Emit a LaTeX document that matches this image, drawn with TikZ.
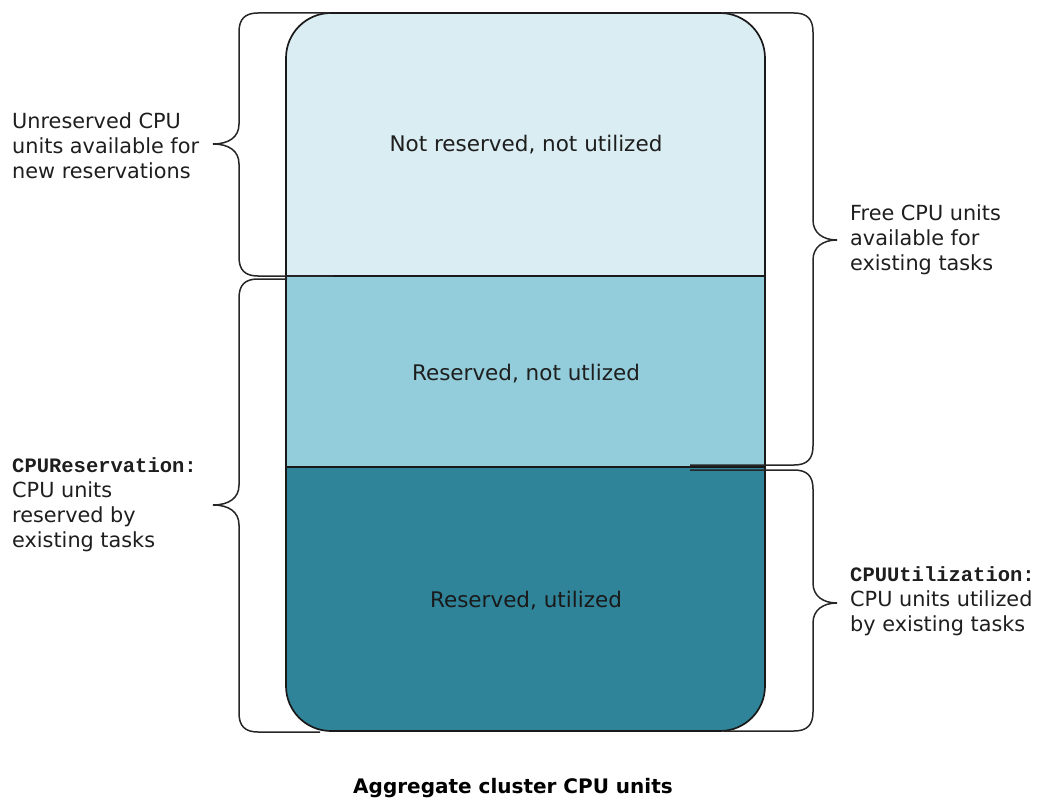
\documentclass[tikz,border=0pt]{standalone}
\usepackage{fontspec}
\setmainfont{DejaVu Sans}
\newfontfamily\codefont{Liberation Mono}
\definecolor{topfill}{HTML}{DAEDF3}
\definecolor{midfill}{HTML}{93CDDB}
\definecolor{botfill}{HTML}{30849A}
\definecolor{txt}{HTML}{1E1E1E}
\begin{document}
\begin{tikzpicture}[x=1pt,y=-1pt,
  lbl/.style={inner sep=0pt, align=left, text=txt, font=\fontsize{20.8}{25}\selectfont},
  mid/.style={inner sep=0pt, text=txt, font=\fontsize{21.5}{25}\selectfont},
  bracepath/.style={draw=black!85, line width=1.5pt},
  edge/.style={draw=black!90, line width=1.7pt}]
\useasboundingbox (0,0) rectangle (1039,805);
% filled column
\begin{scope}
\clip[rounded corners=45pt] (286,13) rectangle (765,731);
\fill[topfill] (286,13) rectangle (765,276);
\fill[midfill] (286,276) rectangle (765,467);
\fill[botfill] (286,467) rectangle (765,731);
\end{scope}
\node[edge, rounded corners=45pt, minimum width=479pt, minimum height=718pt, inner sep=0pt] (box) at (525.5,372) {};
\coordinate (d1l) at (286,276);
\coordinate (d1r) at (765,276);
\coordinate (d2l) at (286,467);
\coordinate (d2r) at (765,467);
\draw[edge] (d1l) -- (d1r);
\draw[edge] (d2l) -- (d2r);
% braces: left top
\draw[bracepath] (330,13) -- (258,13) .. controls (245,13) and (239,19) .. (239,32)
  -- (239,124) .. controls (239,137) and (229,144) .. (213,144)
  .. controls (229,144) and (239,151) .. (239,164)
  -- (239,257) .. controls (239,270) and (245,276) .. (258,276) -- (333,276);
% left bottom
\draw[bracepath] (287,279) -- (258,279) .. controls (245,279) and (239,285) .. (239,298)
  -- (239,485) .. controls (239,498) and (229,505) .. (213,505)
  .. controls (229,505) and (239,512) .. (239,525)
  -- (239,713) .. controls (239,726) and (245,732) .. (258,732) -- (320,732);
% right top
\draw[bracepath] (723,13) -- (794,13) .. controls (807,13) and (813,19) .. (813,32)
  -- (813,220) .. controls (813,233) and (823,240) .. (837,240)
  .. controls (823,240) and (813,247) .. (813,260)
  -- (813,446) .. controls (813,459) and (807,465) .. (794,465) -- (690,465);
% right bottom
\draw[bracepath] (690,470) -- (794,470) .. controls (807,470) and (813,476) .. (813,489)
  -- (813,583) .. controls (813,596) and (823,603) .. (837,603)
  .. controls (823,603) and (813,610) .. (813,623)
  -- (813,712) .. controls (813,725) and (807,731) .. (794,731) -- (723,731);
% texts in column
\node[mid] (t1) at (526,145) {Not reserved, not utilized};
\node[mid] (t2) at (526,374) {Reserved, not utlized};
\node[mid, text=black!90] (t3) at (526,601) {Reserved, utilized};
% side labels
\node[lbl, anchor=west] (l1) at (12,146) {Unreserved CPU\\units available for\\new reservations};
\node[lbl, anchor=west] (l2) at (12,505) {{\codefont\bfseries\fontsize{20.5}{25}\selectfont CPUReservation:}\\CPU units\\reserved by\\existing tasks};
\node[lbl, anchor=west] (r1) at (850,240) {Free CPU units\\available for\\existing tasks};
\node[lbl, anchor=west] (r2) at (850,601) {{\codefont\bfseries\fontsize{20.5}{25}\selectfont CPUUtilization:}\\CPU units utilized\\by existing tasks};
% caption
\node[inner sep=0pt, font=\fontsize{20}{25}\selectfont\bfseries] (cap) at (513,788) {Aggregate cluster CPU units};
\end{tikzpicture}
\end{document}
